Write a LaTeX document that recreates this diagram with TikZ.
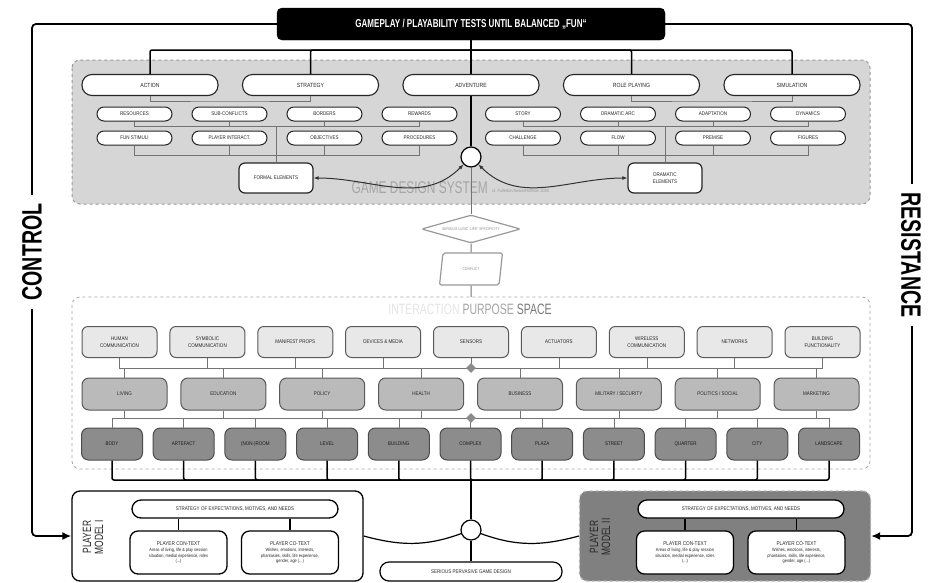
\documentclass[tikz,border=0pt]{standalone}
\usepackage{fontspec}
\setmainfont[FakeStretch=0.85]{Liberation Sans}
\newfontfamily\titlefont[FakeStretch=0.7]{Liberation Sans}
\usetikzlibrary{shapes.geometric,arrows.meta}

\begin{document}
\begin{tikzpicture}[x=1pt,y=-1pt,
  every node/.style={inner sep=0pt,align=center,text=black!85},
  testbox/.style={draw=black,fill=black,rounded corners=5pt,minimum width=388pt,minimum height=32pt,text=white,font=\titlefont\bfseries\fontsize{11.5}{12}\selectfont},
  genre/.style={draw=black!85,line width=1.1pt,fill=white,rounded corners=10pt,minimum width=136pt,minimum height=21pt,font=\fontsize{6}{7}\selectfont},
  elem/.style={draw=black!85,line width=1pt,fill=white,rounded corners=7pt,minimum width=75pt,minimum height=14pt,font=\fontsize{5.3}{6}\selectfont},
  elemgroup/.style={draw=black!85,line width=1.2pt,fill=white,rounded corners=6pt,minimum width=74pt,minimum height=30pt,font=\fontsize{5.3}{7}\selectfont},
  media/.style={draw=black!65,line width=1pt,fill=black!9,rounded corners=6pt,minimum width=75pt,minimum height=31pt,font=\fontsize{5.3}{6.5}\selectfont},
  sector/.style={draw=black!65,line width=1pt,fill=black!27,rounded corners=7pt,minimum width=85pt,minimum height=32pt,font=\fontsize{5.3}{6.5}\selectfont},
  spatial/.style={draw=black!70,line width=1pt,fill=black!45,rounded corners=7pt,minimum width=61pt,minimum height=32pt,text=black!90,font=\fontsize{5.3}{6.5}\selectfont},
  hub/.style={circle,draw=black,line width=1.2pt,fill=white,minimum size=20pt},
  joint/.style={diamond,fill=black!45,minimum size=10pt},
  link/.style={draw=black,line width=1.5pt,rounded corners=2pt},
  glink/.style={draw=black!55,line width=1pt},
  bracket/.style={draw=black!55,line width=0.6pt},
  flow/.style={draw=black!80,line width=1pt,{Latex[length=5pt,width=4pt]}-{Latex[length=5pt,width=4pt]}},
  feedback/.style={draw=black,line width=1.8pt,rounded corners=4pt,-{Latex[length=9pt,width=8pt]}},
  sidelabel/.style={fill=white,inner xsep=9pt,inner ysep=2pt,font=\titlefont\bfseries\fontsize{28}{28}\selectfont,text=black},
  playerbox/.style={draw=black,line width=1.3pt,fill=white,rounded corners=8pt,minimum width=291pt,minimum height=90pt},
  motive/.style={draw=black,line width=1.3pt,fill=white,rounded corners=9pt,minimum width=206pt,minimum height=18pt,font=\fontsize{5.3}{6}\selectfont},
  context/.style={draw=black,line width=1.3pt,fill=white,rounded corners=8pt,minimum width=97pt,minimum height=43pt,font=\fontsize{4.6}{5.6}\selectfont}]
\useasboundingbox (0,0) rectangle (928,582);

% backdrops
\draw[draw=black!40,dashed,line width=1pt,fill=black!16,rounded corners=8pt] (72,60) rectangle (870,204);
\draw[draw=black!35,dashed,line width=0.8pt,fill=white,rounded corners=8pt] (72,297) rectangle (870,469);

% game design system
\node[testbox] (BB) at (471,24) {GAMEPLAY / PLAYABILITY TESTS UNTIL BALANCED „FUN“};
\node[genre] (ACT) at (150,85) {ACTION};
\node[genre] (STR) at (310.5,85) {STRATEGY};
\node[genre] (ADV) at (471,85) {ADVENTURE};
\node[genre] (ROL) at (631.5,85) {ROLE PLAYING};
\node[genre] (SIM) at (792,85) {SIMULATION};

\node[elem] (RES) at (134.5,114) {RESOURCES};
\node[elem] (SUB) at (229.5,114) {SUB-CONFLICTS};
\node[elem] (BOR) at (324.5,114) {BORDERS};
\node[elem] (REW) at (419.5,114) {REWARDS};
\node[elem] (FUN) at (134.5,138) {FUN STIMULI};
\node[elem] (PLI) at (229.5,138) {PLAYER INTERACT.};
\node[elem] (OBJ) at (324.5,138) {OBJECTIVES};
\node[elem] (PRO) at (419.5,138) {PROCEDURES};
\node[elemgroup] (FE) at (276,178) {FORMAL ELEMENTS};

\node[elem] (STO) at (523,114) {STORY};
\node[elem] (DAR) at (618,114) {DRAMATIC ARC};
\node[elem] (ADA) at (713,114) {ADAPTATION};
\node[elem] (DYN) at (808,114) {DYNAMICS};
\node[elem] (CHA) at (523,138) {CHALLENGE};
\node[elem] (FLO) at (618,138) {FLOW};
\node[elem] (PRE) at (713,138) {PREMISE};
\node[elem] (FIG) at (808,138) {FIGURES};
\node[elemgroup] (DE) at (665,178) {DRAMATIC\\ELEMENTS};

\node[hub] (gc) at (471,157) {};
\node[anchor=east,text=black!35,font=\titlefont\fontsize{17}{17}\selectfont] (GDS) at (488,188) {GAME DESIGN SYSTEM};
\node[anchor=west,text=black!40,font=\fontsize{4.5}{5}\selectfont] (CF1) at (492,191) {cf. Fullerton/Swain/Hoffman 2004};

\coordinate (t1) at (471,50);
\coordinate (tb1) at (230,101);
\coordinate (tb2) at (712,101);
\coordinate (bl1) at (276,126);
\coordinate (bl2) at (276,155);
\coordinate (br1) at (665,126);
\coordinate (br2) at (665,155);

\draw[link] (BB.south) -- (ADV.north);
\draw[link] (ACT.north) |- (t1) -| (SIM.north);
\draw[link] (STR.north) |- (t1) (ROL.north) |- (t1);
\draw[link] (ADV.south) -- (gc.north);
\draw[bracket] (ACT.south) |- (tb1) -| (STR.south);
\draw[bracket] (ROL.south) |- (tb2) -| (SIM.south);
\draw[bracket] (RES.south) |- (bl1) (SUB.south) |- (bl1) (BOR.south) |- (bl1) (REW.south) |- (bl1);
\draw[bracket] (FUN.south) |- (bl2) (PLI.south) |- (bl2) (OBJ.south) |- (bl2) (PRO.south) |- (bl2);
\draw[bracket] (bl1) -- (FE.north);
\draw[bracket] (STO.south) |- (br1) (DAR.south) |- (br1) (ADA.south) |- (br1) (DYN.south) |- (br1);
\draw[bracket] (CHA.south) |- (br2) (FLO.south) |- (br2) (PRE.south) |- (br2) (FIG.south) |- (br2);
\draw[bracket] (br1) -- (DE.north);
\draw[flow] (FE.east) to[out=0,in=-135] (gc);
\draw[flow] (gc) to[out=-45,in=180] (DE.west);

% specificity and conflict
\node[diamond,aspect=3.5,draw=black!40,line width=1.2pt,fill=white,rounded corners=2pt,minimum width=99pt,minimum height=28pt,text=black!45,font=\fontsize{4}{5}\selectfont] (DM) at (471,229) {SERIOUS LUDIC 'LIFE' SPECIFICITY};
\node[trapezium,trapezium stretches=true,trapezium left angle=70,trapezium right angle=110,draw=black!40,line width=1.2pt,fill=white,rounded corners=2pt,minimum width=63pt,minimum height=32pt,text=black!45,font=\fontsize{4}{5}\selectfont] (CF) at (471,269) {CONFLICT};
\coordinate (ipstop) at (471,297);
\draw[glink] (gc.south) -- (DM.north);
\draw[glink] (DM.south) -- (CF.north);
\draw[glink] (CF.south) -- (ipstop);

% interaction purpose space
\node[font=\titlefont\fontsize{15}{15}\selectfont] (IPS) at (470,309) {\textcolor{black!10}{INTERACTION} \textcolor{black!35}{PURPOSE} \textcolor{black!52}{SPACE}};

\node[media] (A1) at (119.5,342) {HUMAN\\COMMUNICATION};
\node[media] (A2) at (207.4,342) {SYMBOLIC\\COMMUNICATION};
\node[media] (A3) at (295.3,342) {MANIFEST PROPS};
\node[media] (A4) at (383.1,342) {DEVICES \& MEDIA};
\node[media] (A5) at (471,342) {SENSORS};
\node[media] (A6) at (558.9,342) {ACTUATORS};
\node[media] (A7) at (646.8,342) {WIRELESS\\COMMUNICATION};
\node[media] (A8) at (734.6,342) {NETWORKS};
\node[media] (A9) at (822.5,342) {BUILDING\\FUNCTIONALITY};

\node[sector] (B1) at (124.5,394) {LIVING};
\node[sector] (B2) at (223.4,394) {EDUCATION};
\node[sector] (B3) at (322.2,394) {POLICY};
\node[sector] (B4) at (421.1,394) {HEALTH};
\node[sector] (B5) at (520,394) {BUSINESS};
\node[sector] (B6) at (618.8,394) {MILITARY / SECURITY};
\node[sector] (B7) at (717.7,394) {POLITICS / SOCIAL};
\node[sector] (B8) at (816.5,394) {MARKETING};

\node[spatial] (C1) at (112,444) {BODY};
\node[spatial] (C2) at (183.7,444) {ARTEFACT};
\node[spatial] (C3) at (255.4,444) {(NON-)ROOM};
\node[spatial] (C4) at (327.1,444) {LEVEL};
\node[spatial] (C5) at (398.8,444) {BUILDING};
\node[spatial] (C6) at (470.5,444) {COMPLEX};
\node[spatial] (C7) at (542.2,444) {PLAZA};
\node[spatial] (C8) at (613.9,444) {STREET};
\node[spatial] (C9) at (685.6,444) {QUARTER};
\node[spatial] (C10) at (757.3,444) {CITY};
\node[spatial] (C11) at (829,444) {LANDSCAPE};

\coordinate (ia) at (471,368);
\coordinate (ib) at (471,418);
\coordinate (cb) at (471,480);
\draw[bracket] (A1.south) |- (ia) -| (A9.south);
\draw[bracket] (A2.south) |- (ia) (A3.south) |- (ia) (A4.south) |- (ia) (A5.south) |- (ia) (A6.south) |- (ia) (A7.south) |- (ia) (A8.south) |- (ia);
\draw[bracket] (ia) -| (B1.north) (ia) -| (B2.north) (ia) -| (B3.north) (ia) -| (B4.north) (ia) -| (B5.north) (ia) -| (B6.north) (ia) -| (B7.north) (ia) -| (B8.north);
\draw[bracket] (B1.south) |- (ib) -| (B8.south);
\draw[bracket] (B2.south) |- (ib) (B3.south) |- (ib) (B4.south) |- (ib) (B5.south) |- (ib) (B6.south) |- (ib) (B7.south) |- (ib);
\draw[bracket] (ib) -| (C1.north) (ib) -| (C2.north) (ib) -| (C3.north) (ib) -| (C4.north) (ib) -| (C5.north) (ib) -| (C6.north) (ib) -| (C7.north) (ib) -| (C8.north) (ib) -| (C9.north) (ib) -| (C10.north) (ib) -| (C11.north);
\node[joint] (J1) at (ia) {};
\node[joint] (J2) at (ib) {};

% player models
\node[playerbox] (PM1) at (217.5,536) {};
\node[playerbox,draw=black!30,dashed,fill=black!50] (PM2) at (725,536) {};
\node[rotate=90,font=\titlefont\fontsize{12}{12}\selectfont] (PT1) at (93,537) {PLAYER\\MODEL I};
\node[rotate=90,font=\titlefont\fontsize{12}{12}\selectfont] (PT2) at (600,537) {PLAYER\\MODEL II};

\node[motive] (SP1) at (235,509) {STRATEGY OF EXPECTATIONS, MOTIVES, AND NEEDS};
\node[context] (K1) at (178.5,552.5) {{\fontsize{5.5}{6}\selectfont PLAYER CON-TEXT}\\[1pt]Areas of living, life \& play session\\situation, medial experience, roles\\(...)};
\node[context] (K2) at (290,552.5) {{\fontsize{5.5}{6}\selectfont PLAYER CO-TEXT}\\[1pt]Wishes, emotions, interests,\\phantasies, skills, life experience,\\gender, age (...)};
\node[motive] (SP2) at (741,509) {STRATEGY OF EXPECTATIONS, MOTIVES, AND NEEDS};
\node[context] (K3) at (685,552.5) {{\fontsize{5.5}{6}\selectfont PLAYER CON-TEXT}\\[1pt]Areas of living, life \& play session\\situation, medial experience, roles\\(...)};
\node[context] (K4) at (796.5,552.5) {{\fontsize{5.5}{6}\selectfont PLAYER CO-TEXT}\\[1pt]Wishes, emotions, interests,\\phantasies, skills, life experience,\\gender, age (...)};
\draw[line width=1.2pt] (K1.north) -- (K1.north |- SP1.south) (K2.north) -- (K2.north |- SP1.south);
\draw[line width=1.2pt] (K3.north) -- (K3.north |- SP2.south) (K4.north) -- (K4.north |- SP2.south);

\node[hub] (bc) at (471,530) {};
\node[draw=black,line width=1.2pt,fill=white,rounded corners=9pt,minimum width=182pt,minimum height=19pt,font=\fontsize{5.3}{6}\selectfont] (SPGD) at (471,571.5) {SERIOUS PERVASIVE GAME DESIGN};

\draw[link] (C1.south) |- (cb) -| (C11.south);
\draw[link] (C2.south) |- (cb) (C3.south) |- (cb) (C4.south) |- (cb) (C5.south) |- (cb) (C6.south) |- (cb) (C7.south) |- (cb) (C8.south) |- (cb) (C9.south) |- (cb) (C10.south) |- (cb);
\draw[link] (cb) -- (bc.north);
\draw[link] (bc.south) -- (SPGD.north);
\draw[line width=1.2pt] (PM1.east) to[out=-15,in=200] (bc);
\draw[line width=1.2pt] (bc) to[out=-20,in=195] (PM2.west);

% control and resistance
\coordinate (cL) at (32,300);
\coordinate (cR) at (912,300);
\draw[feedback] (BB.west) -| (cL) |- (PM1.west);
\draw[feedback] (BB.east) -| (cR) |- (PM2.east);
\node[sidelabel,rotate=90] (CTRL) at (32,252) {CONTROL};
\node[sidelabel,rotate=-90] (RES2) at (911,255) {RESISTANCE};
\end{tikzpicture}
\end{document}
